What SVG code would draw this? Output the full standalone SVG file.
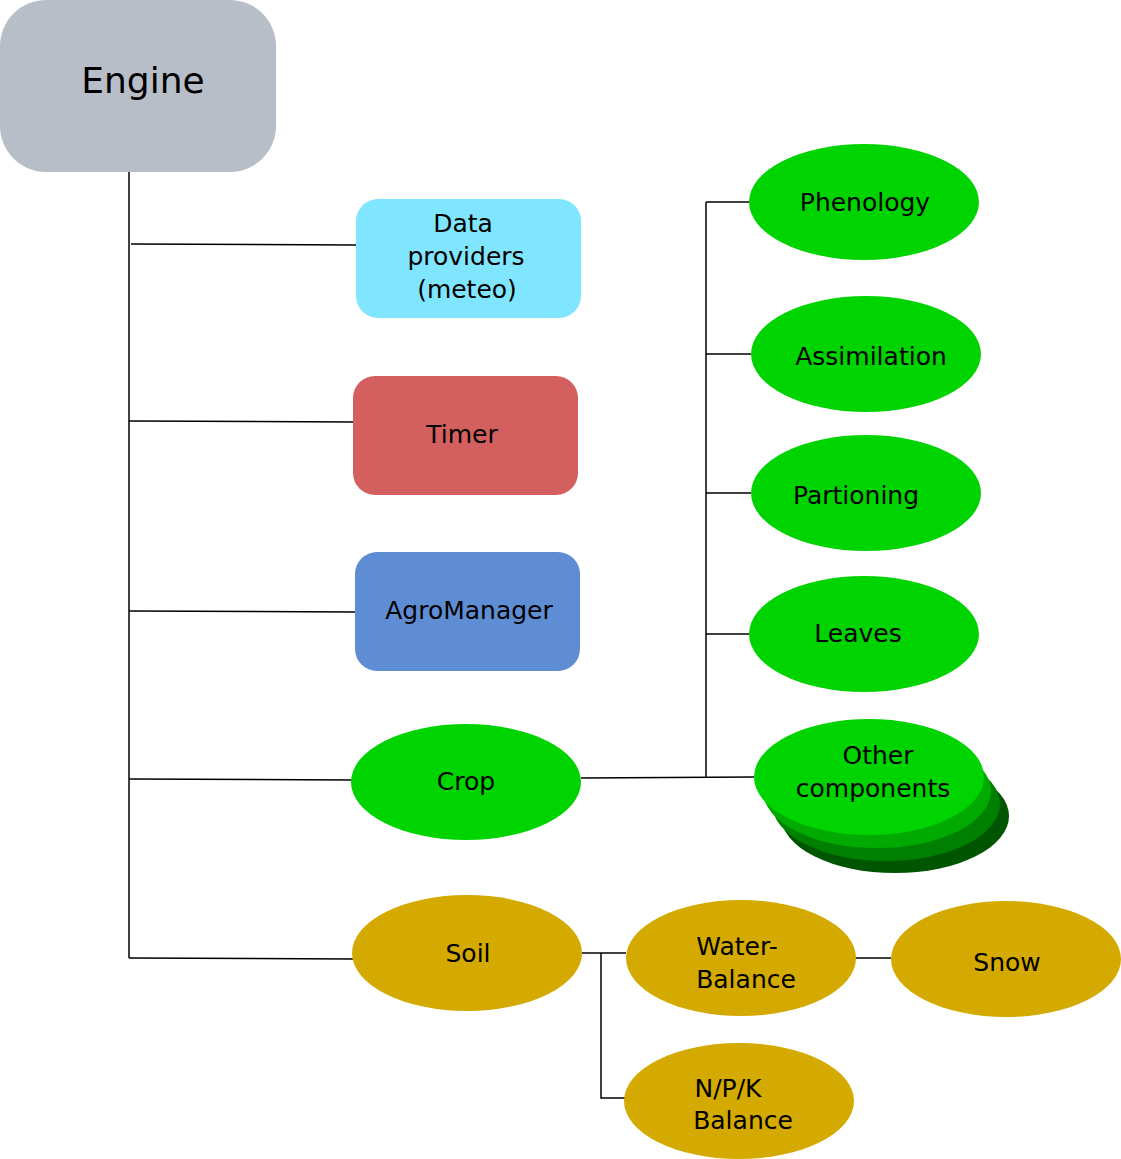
<svg xmlns="http://www.w3.org/2000/svg" width="1121" height="1159" viewBox="0 0 1121 1159">
<style>
text{font-family:"DejaVu Sans",sans-serif;font-size:25px;fill:#000;text-anchor:middle;dominant-baseline:central}
.c line,.c polyline{stroke:#000;stroke-width:1.5;fill:none}
.g{fill:#00d400}.s{fill:#d4aa00}
</style>
<rect width="1121" height="1159" fill="#fff"/>
<g class="c" id="connectors">
<line x1="129" y1="172" x2="129" y2="958"/>
<line x1="131" y1="244" x2="356" y2="245"/>
<line x1="129" y1="421" x2="353" y2="422"/>
<line x1="129" y1="611" x2="355" y2="612"/>
<line x1="129" y1="779" x2="352" y2="780"/>
<line x1="129" y1="958" x2="353" y2="959"/>
<line x1="581" y1="778" x2="754" y2="777"/>
<line x1="706" y1="202" x2="706" y2="777"/>
<line x1="706" y1="202" x2="750" y2="202"/>
<line x1="706" y1="354" x2="751" y2="354"/>
<line x1="706" y1="493" x2="751" y2="493"/>
<line x1="706" y1="634" x2="750" y2="634"/>
<line x1="582" y1="953" x2="626" y2="953"/>
<polyline points="601,953 601,1098 625,1098"/>
<line x1="855" y1="958" x2="891" y2="958"/>
</g>
<g id="engine"><rect x="0" y="0" width="276" height="172" rx="46" fill="#b8bec8"/><text x="143" y="80" style="font-size:36px">Engine</text></g>
<g id="data"><rect x="356" y="199" width="225" height="119" rx="22" fill="#80e5ff"/><text x="463" y="223">Data</text><text x="466" y="256">providers</text><text x="467" y="289">(meteo)</text></g>
<g id="timer"><rect x="353" y="376" width="225" height="119" rx="22" fill="#d45f5f"/><text x="462" y="434">Timer</text></g>
<g id="agro"><rect x="355" y="552" width="225" height="119" rx="22" fill="#5f8dd3"/><text x="469" y="610">AgroManager</text></g>
<g id="crop"><ellipse cx="466" cy="782" rx="115" ry="58" class="g"/><text x="466" y="781">Crop</text></g>
<g id="soil"><ellipse cx="467" cy="953" rx="115" ry="58" class="s"/><text x="468" y="953">Soil</text></g>
<g id="phenology"><ellipse cx="864" cy="202" rx="115" ry="58" class="g"/><text x="865" y="202">Phenology</text></g>
<g id="assimilation"><ellipse cx="866" cy="354" rx="115" ry="58" class="g"/><text x="871" y="356">Assimilation</text></g>
<g id="partioning"><ellipse cx="866" cy="493" rx="115" ry="58" class="g"/><text x="856" y="495">Partioning</text></g>
<g id="leaves"><ellipse cx="864" cy="634" rx="115" ry="58" class="g"/><text x="858" y="633">Leaves</text></g>
<g id="other">
<ellipse cx="895" cy="816" rx="114" ry="57" fill="#005500"/>
<ellipse cx="886" cy="804" rx="114" ry="57" fill="#008000"/>
<ellipse cx="877" cy="791" rx="114" ry="57" fill="#00aa00"/>
<ellipse cx="869" cy="777" rx="115" ry="58" class="g"/>
<text x="878" y="755">Other</text><text x="873" y="788">components</text></g>
<g id="water"><ellipse cx="741" cy="958" rx="115" ry="58" class="s"/><text x="737" y="946">Water-</text><text x="746" y="979">Balance</text></g>
<g id="snow"><ellipse cx="1006" cy="959" rx="115" ry="58" class="s"/><text x="1007" y="962">Snow</text></g>
<g id="npk"><ellipse cx="739" cy="1101" rx="115" ry="58" class="s"/><text x="728" y="1088">N/P/K</text><text x="743" y="1120">Balance</text></g>
</svg>
